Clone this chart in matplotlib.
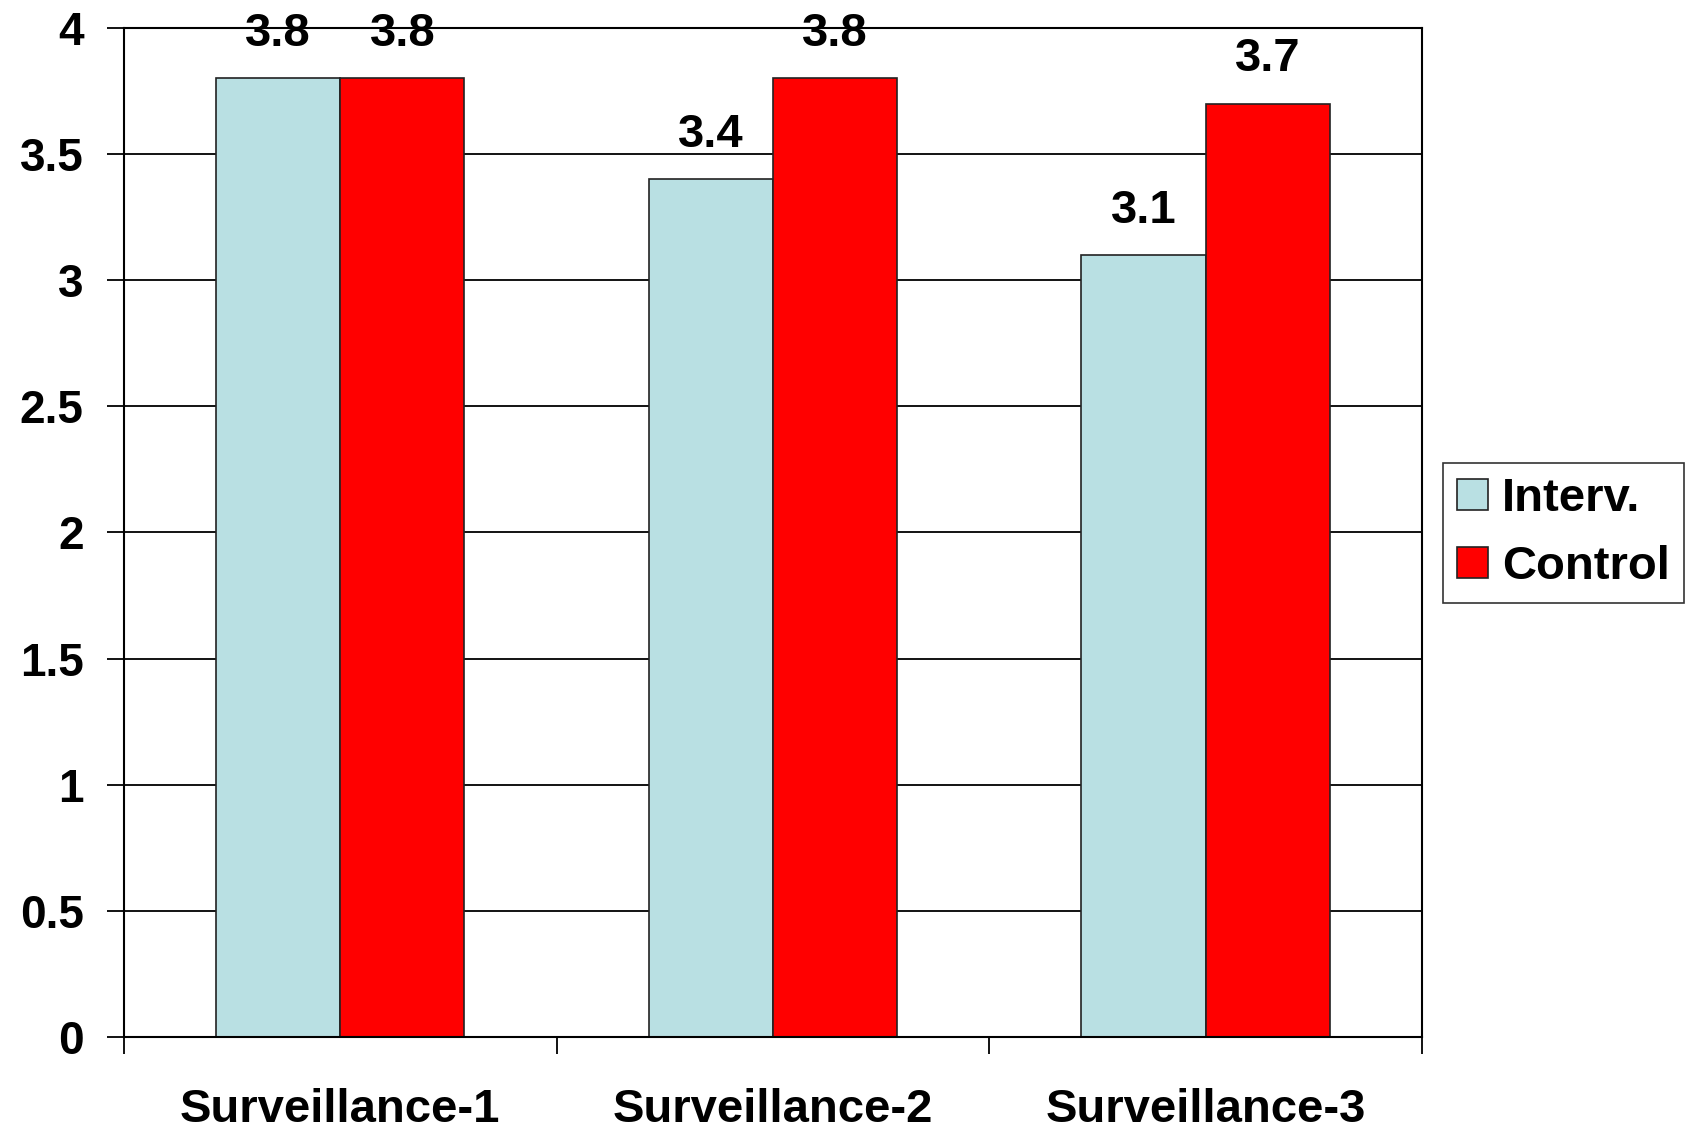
import numpy as np
import matplotlib
matplotlib.use('Agg')
import matplotlib.pyplot as plt

categories = ['Surveillance-1', 'Surveillance-2', 'Surveillance-3']
interv = [3.8, 3.4, 3.1]
control = [3.8, 3.8, 3.7]
series_names = ['Interv.', 'Control']
yticks = [0, 0.5, 1, 1.5, 2, 2.5, 3, 3.5, 4]
ytick_labels = ['0', '0.5', '1', '1.5', '2', '2.5', '3', '3.5', '4']

plt.rcParams['font.family'] = ['Liberation Sans', 'DejaVu Sans']
plt.rcParams['font.weight'] = 'bold'

fig = plt.figure(figsize=(16.86, 11.32), dpi=100)
ax = fig.add_axes([0.0735, 0.0839, 0.7699, 0.8914])

x = np.arange(len(categories))
width = 0.287
b1 = ax.bar(x - width / 2, interv, width, color='#B9E0E3', edgecolor='#222222',
            linewidth=1.2, label=series_names[0], zorder=3)
b2 = ax.bar(x + width / 2, control, width, color='#FF0000', edgecolor='#222222',
            linewidth=1.2, label=series_names[1], zorder=3)

for bars in (b1, b2):
    for rect in bars:
        h = rect.get_height()
        ax.annotate(f'{h:.1f}', (rect.get_x() + rect.get_width() / 2, h),
                    xytext=(0, 16), textcoords='offset points',
                    ha='center', va='bottom', fontsize=34, fontweight='bold')

ax.set_xlim(-0.5, 2.5)
ax.set_ylim(0, 4)
ax.set_yticks(yticks)
ax.set_yticklabels(ytick_labels, fontsize=33, fontweight='bold')
ax.yaxis.grid(True, color='black', linewidth=1.3, zorder=0)
ax.tick_params(axis='y', direction='out', length=12, width=1.3, pad=17)

ax.set_xticks(x)
ax.set_xticklabels(categories, fontsize=34, fontweight='bold')
ax.tick_params(axis='x', which='major', length=0, pad=37)
ax.set_xticks([-0.5, 0.5, 1.5, 2.5], minor=True)
ax.tick_params(axis='x', which='minor', direction='out', length=12, width=1.3)

for s in ax.spines.values():
    s.set_linewidth(1.5)
    s.set_zorder(4)

leg = fig.legend(loc='center left', bbox_to_anchor=(0.856, 0.529), borderaxespad=0,
                 frameon=True, fancybox=False, edgecolor='black', handlelength=0.64,
                 handleheight=0.64, handletextpad=0.3, borderpad=0.3, labelspacing=0.5,
                 prop={'weight': 'bold', 'size': 34})
leg.get_frame().set_linewidth(1.2)

fig.savefig('out.png', dpi=100)
